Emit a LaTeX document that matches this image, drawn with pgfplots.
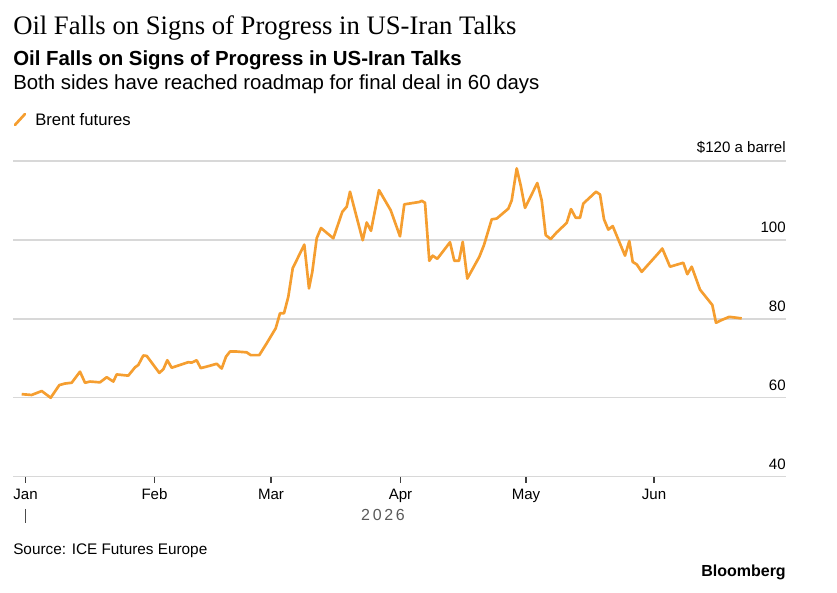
\documentclass[border=0pt]{standalone}
\usepackage{pgfplots}
\pgfplotsset{compat=1.18}
\usepackage{fontspec}
\setmainfont{Liberation Sans}
\newfontfamily\titlefont{Liberation Serif}
\definecolor{brent}{RGB}{245,158,48}
\definecolor{gridc}{RGB}{216,216,216}
\definecolor{yeargray}{RGB}{90,90,90}

\pgfplotstableread{
px val
21.7 60.9
31.7 60.7
41.7 61.7
50.7 60.0
59.3 63.2
65.0 63.6
71.7 63.8
80.0 66.6
85.0 63.8
90.0 64.1
100.0 63.9
106.7 65.2
113.3 64.1
116.7 65.9
128.3 65.6
135.0 67.7
138.3 68.3
143.3 70.7
146.7 70.6
159.3 66.3
163.3 67.2
167.3 69.5
171.7 67.6
180.0 68.3
188.3 69.0
191.7 68.9
196.7 69.5
200.7 67.5
208.3 68.0
216.7 68.6
221.7 67.4
226.0 70.4
230.0 71.7
236.7 71.7
246.7 71.5
250.7 70.8
259.3 70.8
266.7 73.8
275.7 77.6
280.0 81.4
284.0 81.4
288.3 85.6
292.7 92.8
304.3 98.8
309.0 87.7
312.3 91.9
316.7 100.4
321.0 103.0
333.3 100.4
342.3 107.1
346.7 108.4
350.0 112.2
362.7 99.9
366.7 104.4
371.0 102.3
379.0 112.6
390.7 107.5
400.0 100.9
404.3 109.0
419.3 109.6
421.7 109.9
425.0 109.4
429.3 94.7
432.7 96.0
437.3 95.2
450.0 99.4
454.3 94.7
459.0 94.7
462.7 99.5
467.3 90.2
479.3 95.7
484.0 98.7
491.7 105.2
496.7 105.4
508.3 107.9
511.7 110.0
516.7 118.1
520.7 113.8
525.0 108.1
537.3 114.4
541.7 110.0
545.7 101.2
550.7 100.2
556.7 101.9
566.7 104.3
571.0 107.8
575.7 105.6
580.0 105.6
583.3 109.2
596.0 112.2
600.0 111.5
604.0 105.2
608.3 102.6
612.7 103.5
625.0 96.0
629.3 99.7
632.7 94.4
636.7 93.8
641.7 91.9
658.3 96.6
662.3 97.8
670.0 93.2
683.3 94.2
687.3 91.3
691.7 93.2
700.0 87.4
712.3 83.5
716.0 79.0
721.7 79.7
729.3 80.5
741.7 80.1
}\brent

\begin{document}
\begin{tikzpicture}
\begin{axis}[
  scale only axis,
  width=579.75pt, height=236.8pt,
  xmin=13, xmax=786, ymin=40, ymax=120,
  axis line style={draw=none},
  ytick={40,60,80,100,120},
  yticklabels={40,60,80,100,\$120 a barrel},
  ymajorgrids,
  grid style={draw=gridc, line width=1.1pt},
  major y tick style={draw=none},
  yticklabel pos=right,
  yticklabel style={anchor=south east, inner sep=0pt, xshift=-4.5pt, yshift=5pt, font=\fontsize{11.3}{13}\selectfont},
  xtick={25.5,154.5,271,400.5,526,654},
  xticklabels={Jan,Feb,Mar,Apr,May,Jun},
  xtick pos=bottom,
  tick align=outside,
  major x tick style={draw=black!75, line width=0.8pt},
  major tick length=4.5pt,
  xticklabel style={font=\fontsize{11.3}{13}\selectfont, yshift=-1pt},
  /pgf/number format/assume math mode=true,
  clip=false,
]
\addplot[brent, line width=2pt, line join=round] table[x=px, y=val] {\brent};
\end{axis}
% titles
\node[anchor=west, inner sep=0pt] at (0pt,336.5pt) {\titlefont\fontsize{20}{24}\selectfont Oil Falls on Signs of Progress in US-Iran Talks};
\node[anchor=west, inner sep=0pt] at (0pt,312.3pt) {\fontsize{15.3}{18}\selectfont\bfseries Oil Falls on Signs of Progress in US-Iran Talks};
\node[anchor=west, inner sep=0pt] at (0pt,294.3pt) {\fontsize{15.3}{18}\selectfont Both sides have reached roadmap for final deal in 60 days};
% legend
\draw[brent, line width=2pt, line cap=round] (1.5pt,263.8pt) -- (9pt,272pt);
\node[anchor=west, inner sep=0pt] at (16.5pt,268.2pt) {\fontsize{12.5}{15}\selectfont Brent futures};
% year marker
\draw[black!70, line width=0.8pt] (9.4pt,-24.2pt) -- (9.4pt,-34.7pt);
\node[inner sep=0pt, text=yeargray] at (277.5pt,-28.7pt) {\fontsize{12}{14}\selectfont 2\,0\,2\,6};
% source and logo
\node[anchor=west, inner sep=0pt] at (0pt,-55.3pt) {\fontsize{11.5}{14}\selectfont Source: ICE Futures Europe};
\node[anchor=east, inner sep=0pt] at (579.75pt,-71.5pt) {\fontsize{12}{14}\selectfont\bfseries Bloomberg};
\pgfresetboundingbox
\path[use as bounding box] (-9.75pt,-86.5pt) rectangle (618pt,357.5pt);
\end{tikzpicture}
\end{document}
